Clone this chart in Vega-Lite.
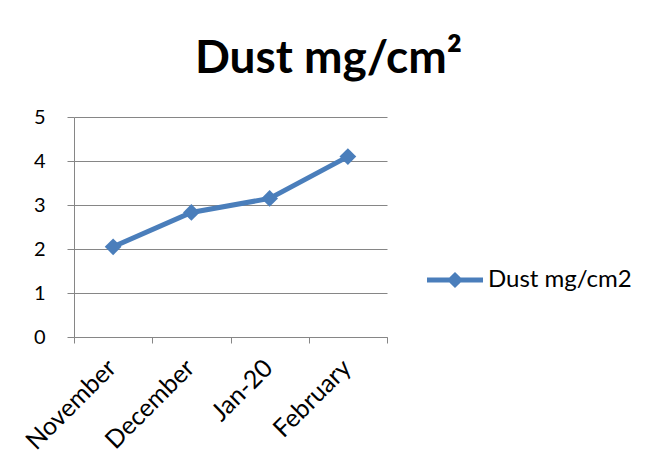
{
  "$schema": "https://vega.github.io/schema/vega-lite/v6.json",
  "width": 313,
  "height": 220,
  "autosize": "none",
  "padding": {"left": 74, "top": 117, "right": 269, "bottom": 133},
  "background": "white",
  "config": {"view": {"stroke": null}, "font": "Lato"},
  "title": {"text": "Dust mg/cm²", "fontSize": 46, "fontWeight": "bold", "font": "Lato", "color": "black", "anchor": "middle", "dx": 98, "baseline": "alphabetic", "offset": -12},
  "data": {"values": [
    {"month": "November", "value": 2.05, "series": "Dust mg/cm2"},
    {"month": "December", "value": 2.83, "series": "Dust mg/cm2"},
    {"month": "Jan-20", "value": 3.15, "series": "Dust mg/cm2"},
    {"month": "February", "value": 4.1, "series": "Dust mg/cm2"}
  ]},
  "mark": {"type": "line", "strokeWidth": 5, "point": {"shape": "diamond", "size": 280, "filled": true, "opacity": 1}},
  "encoding": {
    "x": {"field": "month", "type": "ordinal", "sort": null,
      "scale": {"type": "band", "paddingInner": 0, "paddingOuter": 0},
      "axis": {"title": null, "labelAngle": -45, "tickBand": "extent", "grid": false, "domainColor": "#868686", "tickColor": "#868686", "tickSize": 6, "labelFontSize": 25, "labelColor": "black", "labelFont": "Lato", "labelPadding": 12, "labelOffset": -10}},
    "y": {"field": "value", "type": "quantitative",
      "scale": {"domain": [0, 5], "nice": false},
      "axis": {"title": null, "values": [0, 1, 2, 3, 4, 5], "gridColor": "#868686", "gridOpacity": 1, "domainColor": "#868686", "tickColor": "#868686", "tickSize": 7, "labelPadding": 22, "labelFontSize": 20, "labelColor": "black", "labelFont": "Lato"}},
    "color": {"field": "series", "type": "nominal", "scale": {"range": ["#4A7EBB"]},
      "legend": {"title": null, "orient": "none", "legendX": 353, "legendY": 135,
        "symbolType": "M-1,-0.09L-0.2,-0.09L0,-0.29L0.2,-0.09L1,-0.09L1,0.09L0.2,0.09L0,0.29L-0.2,0.09L-1,0.09Z",
        "symbolSize": 3136, "symbolStrokeWidth": 0, "symbolFillColor": "#4A7EBB",
        "labelFontSize": 24, "labelColor": "black", "labelFont": "Lato", "labelOffset": 5,
        "encode": {"symbols": {"update": {"fill": {"value": "#4A7EBB"}, "strokeWidth": {"value": 0}}}}}}
  }
}
